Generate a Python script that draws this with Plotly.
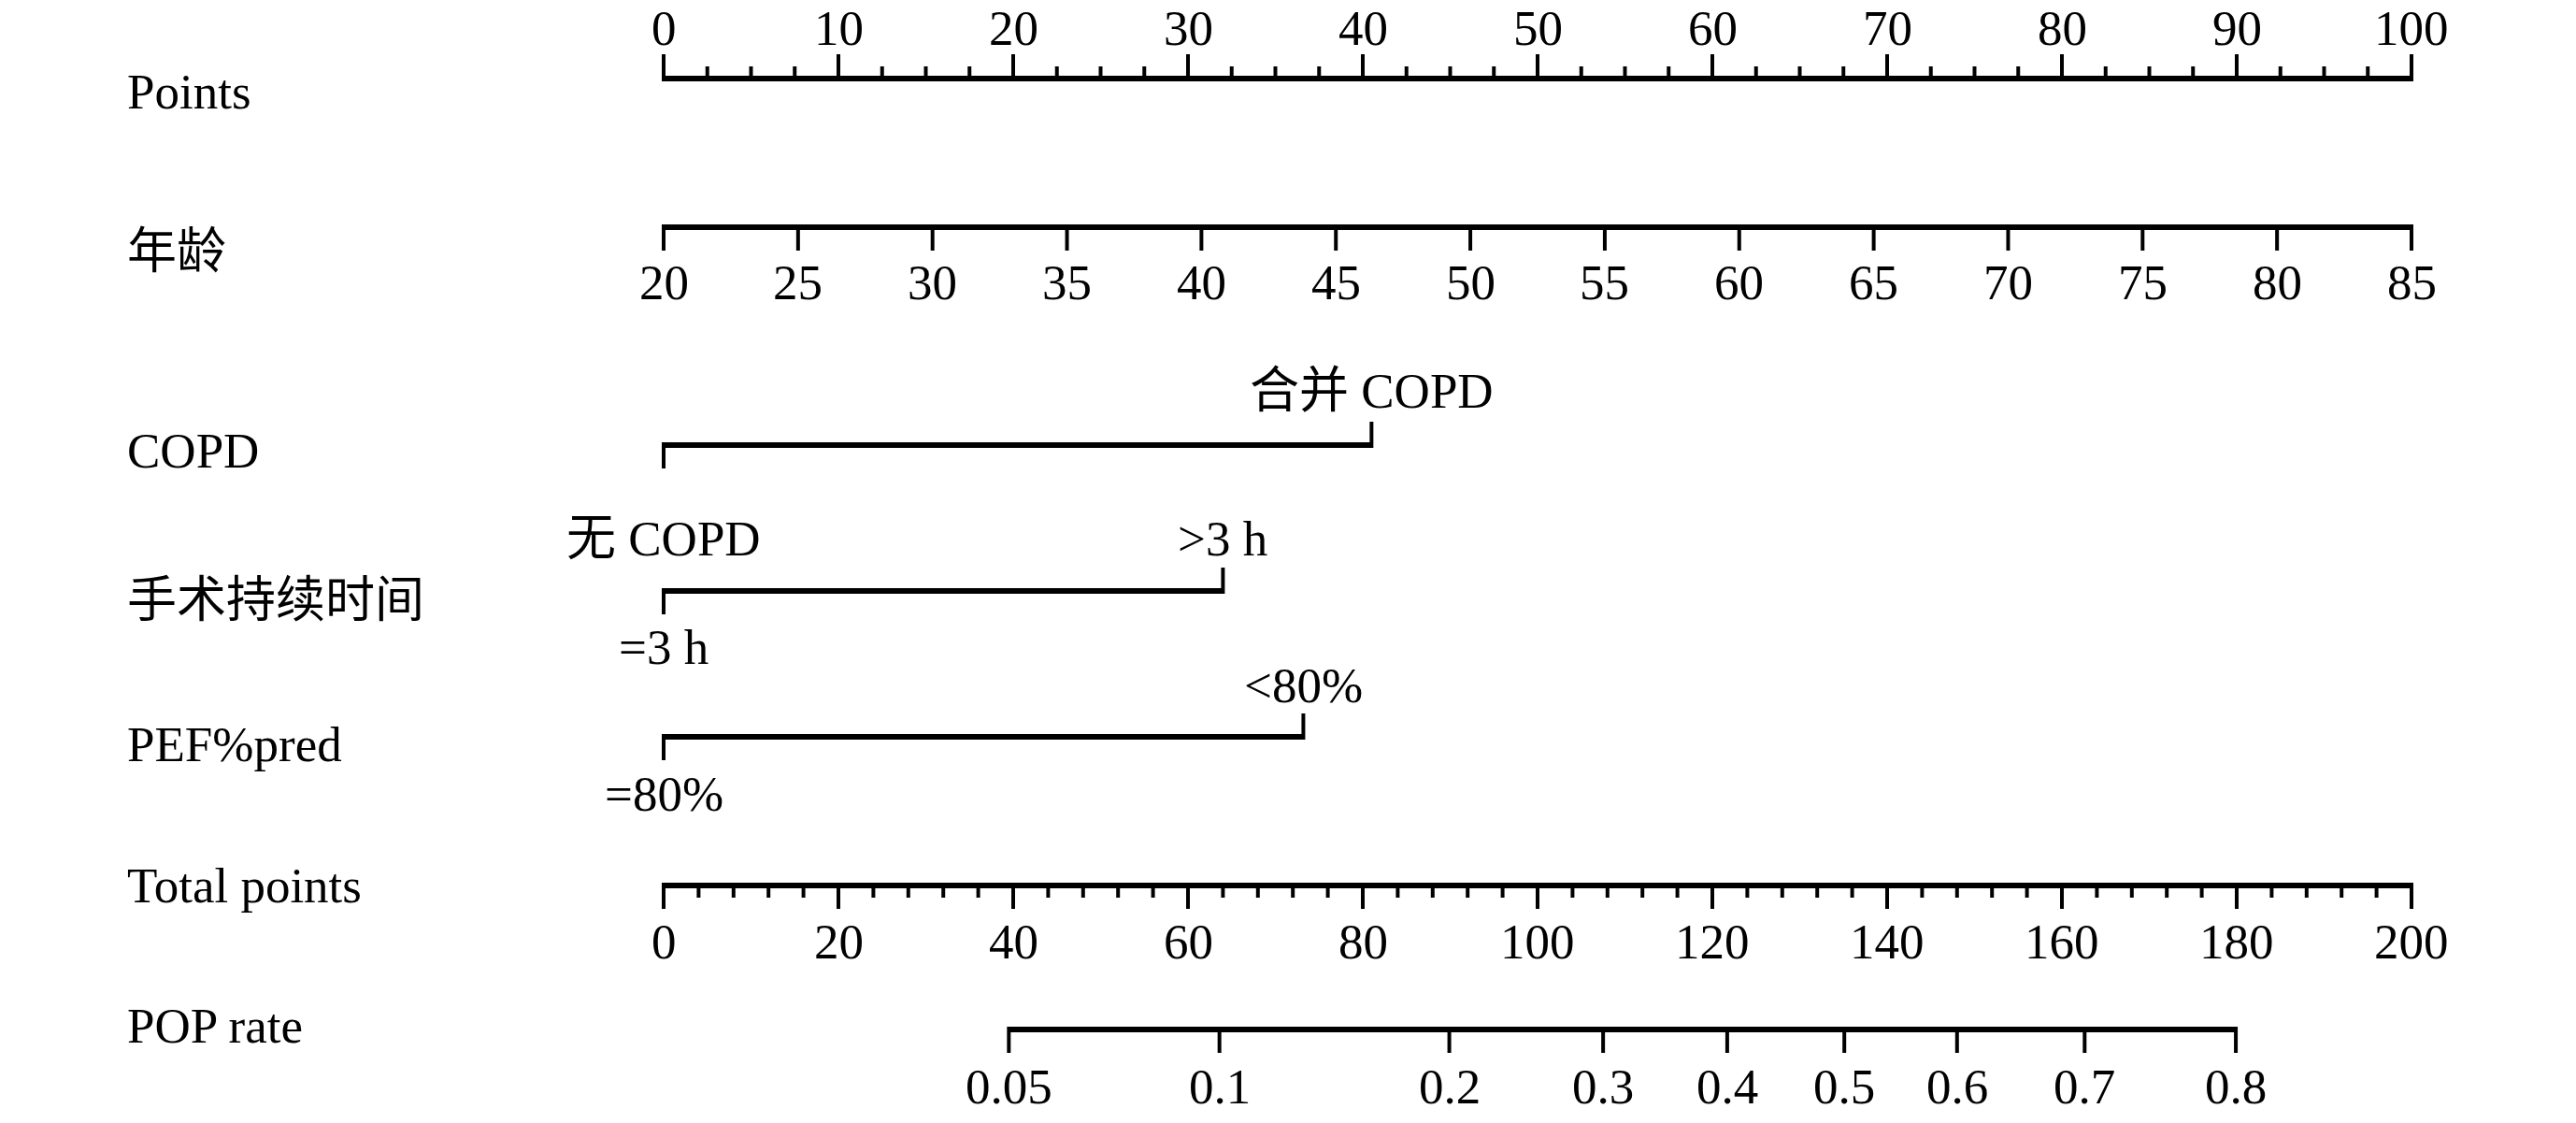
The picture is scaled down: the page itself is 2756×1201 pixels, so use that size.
import numpy as np
import plotly.graph_objects as go

# ---------------- data ----------------
row_names = ["Points", "年龄", "COPD", "手术持续时间", "PEF%pred", "Total points", "POP rate"]

points_ticks = [0, 10, 20, 30, 40, 50, 60, 70, 80, 90, 100]
points_minor_step = 2.5

age_ticks = [20, 25, 30, 35, 40, 45, 50, 55, 60, 65, 70, 75, 80, 85]
age_min, age_max = 20, 85          # age range spans 0..100 points

copd_labels = ["无 COPD", "合并 COPD"]
copd_points = [0, 40.5]

surgery_labels = ["=3 h", ">3 h"]
surgery_points = [0, 32.0]

pef_labels = ["=80%", "<80%"]
pef_points = [0, 36.6]

total_ticks = [0, 20, 40, 60, 80, 100, 120, 140, 160, 180, 200]
total_minor_step = 4
total_max = 200

pop_tick_labels = ["0.05", "0.1", "0.2", "0.3", "0.4", "0.5", "0.6", "0.7", "0.8"]
pop_total_points = [39.5, 63.6, 89.9, 107.5, 121.7, 135.1, 148.0, 162.6, 179.9]

# ---------------- layout constants ----------------
W, H = 2756, 1201
X0_PX, X100_PX = 710, 2580
PPP = (X100_PX - X0_PX) / 100.0
FONT = "Liberation Serif, Times New Roman, Noto Sans CJK SC, serif"
FS = 53
LW = 6      # axis line width
TW = 4      # tick width
HALF = LW / 2.0

ROW_Y = {"Points": 84, "年龄": 243, "COPD": 476, "手术持续时间": 632,
         "PEF%pred": 788, "Total points": 947, "POP rate": 1101}
LABEL_Y = {"Points": 98, "年龄": 269, "COPD": 482, "手术持续时间": 642,
           "PEF%pred": 796, "Total points": 947, "POP rate": 1097}

fig = go.Figure()
annotations = []


def segs(pairs):
    xs, ys = [], []
    for (x1, y1, x2, y2) in pairs:
        xs += [x1, x2, None]
        ys += [y1, y2, None]
    return xs, ys


def add_lines(pairs, width):
    xs, ys = segs(pairs)
    fig.add_trace(go.Scatter(x=xs, y=ys, mode="lines",
                             line=dict(color="black", width=width),
                             hoverinfo="skip", showlegend=False))


def text(x, y, s, xanchor="center", xref="x"):
    annotations.append(dict(x=x, y=y, xref=xref, yref="y", text=s, showarrow=False,
                            xanchor=xanchor, yanchor="middle",
                            font=dict(family=FONT, size=FS, color="black")))


# Row labels
for name in row_names:
    text(134 / W, LABEL_Y[name], name, xanchor="left", xref="paper")

# Points axis (ticks above)
y = ROW_Y["Points"]
add_lines([(points_ticks[0], y, points_ticks[-1], y)], LW)
minor = [v for v in np.arange(points_ticks[0], points_ticks[-1] + 1e-9, points_minor_step)
         if v not in points_ticks]
add_lines([(v, y + HALF, v, y - 26) for v in points_ticks] +
          [(v, y + HALF, v, y - 13) for v in minor], TW)
for v in points_ticks:
    text(v, 30, str(v))

# Age axis (ticks below)
y = ROW_Y["年龄"]
age_pts = [(a - age_min) / (age_max - age_min) * 100 for a in age_ticks]
add_lines([(age_pts[0], y, age_pts[-1], y)], LW)
add_lines([(p, y - HALF, p, y + 25) for p in age_pts], TW)
for a, p in zip(age_ticks, age_pts):
    text(p, 302, str(a))


# Categorical rows
def cat_row(name, labels, pts, low_off, high_off):
    y = ROW_Y[name]
    add_lines([(pts[0], y, pts[-1], y)], LW)
    add_lines([(pts[0], y - HALF, pts[0], y + 25),
               (pts[-1], y + HALF, pts[-1], y - 25)], TW)
    text(pts[0], y + low_off, labels[0])
    text(pts[-1], y + high_off, labels[-1])


cat_row("COPD", copd_labels, copd_points, 100, -58)
cat_row("手术持续时间", surgery_labels, surgery_points, 60, -56)
cat_row("PEF%pred", pef_labels, pef_points, 61, -55)

# Total points axis (ticks below)
y = ROW_Y["Total points"]
tp = [t / total_max * 100 for t in total_ticks]
add_lines([(tp[0], y, tp[-1], y)], LW)
tminor = [v for v in np.arange(total_ticks[0], total_ticks[-1] + 1e-9, total_minor_step)
          if v not in total_ticks]
add_lines([(p, y - HALF, p, y + 25) for p in tp] +
          [(v / total_max * 100, y - HALF, v / total_max * 100, y + 13) for v in tminor], TW)
for t, p in zip(total_ticks, tp):
    text(p, 1007, str(t))

# POP rate axis (ticks below)
y = ROW_Y["POP rate"]
pp = [t / total_max * 100 for t in pop_total_points]
add_lines([(pp[0], y, pp[-1], y)], LW)
add_lines([(p, y - HALF, p, y + 25) for p in pp], TW)
for lab, p in zip(pop_tick_labels, pp):
    text(p, 1162, lab)

fig.update_layout(
    width=W, height=H,
    margin=dict(l=0, r=0, t=0, b=0, pad=0),
    paper_bgcolor="white", plot_bgcolor="white",
    xaxis=dict(range=[-X0_PX / PPP, (W - X0_PX) / PPP], visible=False, fixedrange=True),
    yaxis=dict(range=[H, 0], visible=False, fixedrange=True),
    annotations=annotations,
    showlegend=False,
)

fig.write_html("out.html", config={"displayModeBar": False},
               post_script="document.body.style.margin='0';document.body.style.overflow='hidden';")
